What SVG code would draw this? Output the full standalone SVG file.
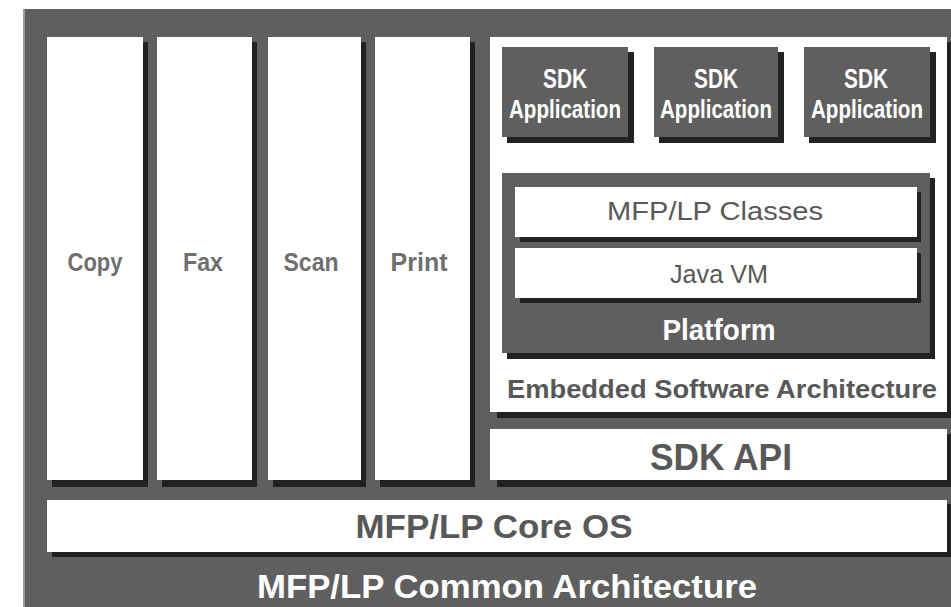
<svg xmlns="http://www.w3.org/2000/svg" width="951" height="607" viewBox="0 0 951 607">
<style>
.bg{fill:#5f5f5f}
.box{fill:#ffffff}
.sh{fill:#222222}
.dk{fill:#5f5f5f}
.lbl{font-family:"Liberation Sans",Arial,sans-serif;font-weight:bold;fill:#6f6f6f;text-anchor:middle}
.wt{font-family:"Liberation Sans",Arial,sans-serif;font-weight:bold;fill:#ffffff;text-anchor:middle}
.gr{font-family:"Liberation Sans",Arial,sans-serif;fill:#585858;text-anchor:middle}
.gb{font-family:"Liberation Sans",Arial,sans-serif;font-weight:bold;fill:#585858;text-anchor:middle}
</style>
<rect x="0" y="0" width="951" height="607" fill="#ffffff"/>
<g id="common">
<rect class="bg" x="23" y="9" width="928" height="598"/>
<rect x="23" y="9" width="2" height="598" fill="#9a9a9a"/>
<text class="wt" x="507" y="598" font-size="33" textLength="500" lengthAdjust="spacingAndGlyphs">MFP/LP Common Architecture</text>
</g>
<g id="copy">
<rect class="sh" x="52" y="42" width="96" height="445"/>
<rect class="box" x="47" y="37" width="96" height="443"/>
<text class="lbl" x="95" y="271" font-size="26" textLength="55" lengthAdjust="spacingAndGlyphs">Copy</text>
</g>
<g id="fax">
<rect class="sh" x="162" y="42" width="95" height="445"/>
<rect class="box" x="157" y="37" width="95" height="443"/>
<text class="lbl" x="203" y="271" font-size="26" textLength="40" lengthAdjust="spacingAndGlyphs">Fax</text>
</g>
<g id="scan">
<rect class="sh" x="273" y="42" width="93" height="445"/>
<rect class="box" x="268" y="37" width="93" height="443"/>
<text class="lbl" x="311" y="271" font-size="26" textLength="55" lengthAdjust="spacingAndGlyphs">Scan</text>
</g>
<g id="print">
<rect class="sh" x="380" y="42" width="95" height="445"/>
<rect class="box" x="375" y="37" width="95" height="443"/>
<text class="lbl" x="419" y="271" font-size="26" textLength="57" lengthAdjust="spacingAndGlyphs">Print</text>
</g>
<g id="core-os">
<rect class="sh" x="52" y="504" width="899" height="53"/>
<rect class="box" x="47" y="500" width="900" height="52"/>
<text class="gb" x="494" y="538" font-size="33" textLength="277" lengthAdjust="spacingAndGlyphs">MFP/LP Core OS</text>
</g>
<g id="sdk-api">
<rect class="sh" x="497" y="434" width="454" height="53"/>
<rect class="box" x="490" y="429" width="457" height="51"/>
<text class="gb" x="721" y="470" font-size="36" textLength="142" lengthAdjust="spacingAndGlyphs">SDK API</text>
</g>
<g id="embedded">
<rect class="sh" x="497" y="42" width="454" height="376"/>
<rect class="box" x="490" y="37" width="457" height="375"/>
<text class="gb" x="722" y="398" font-size="25" textLength="430" lengthAdjust="spacingAndGlyphs">Embedded Software Architecture</text>
</g>
<g id="sdk-app-1">
<rect class="sh" x="507" y="52" width="127" height="91"/>
<rect class="dk" x="502" y="47" width="126" height="90"/>
<text class="wt" x="565" y="88" font-size="27" textLength="44" lengthAdjust="spacingAndGlyphs">SDK</text>
<text class="wt" x="565" y="118" font-size="26" textLength="112" lengthAdjust="spacingAndGlyphs">Application</text>
</g>
<g id="sdk-app-2">
<rect class="sh" x="659" y="52" width="125" height="91"/>
<rect class="dk" x="654" y="47" width="124" height="90"/>
<text class="wt" x="716" y="88" font-size="27" textLength="44" lengthAdjust="spacingAndGlyphs">SDK</text>
<text class="wt" x="716" y="118" font-size="26" textLength="112" lengthAdjust="spacingAndGlyphs">Application</text>
</g>
<g id="sdk-app-3">
<rect class="sh" x="809" y="52" width="127" height="91"/>
<rect class="dk" x="804" y="47" width="126" height="90"/>
<text class="wt" x="866" y="88" font-size="27" textLength="44" lengthAdjust="spacingAndGlyphs">SDK</text>
<text class="wt" x="867" y="118" font-size="26" textLength="112" lengthAdjust="spacingAndGlyphs">Application</text>
</g>
<g id="platform">
<rect class="sh" x="507" y="178" width="428" height="181"/>
<rect class="dk" x="502" y="173" width="428" height="180"/>
<text class="wt" x="719" y="340" font-size="29" textLength="113" lengthAdjust="spacingAndGlyphs">Platform</text>
</g>
<g id="mfp-classes">
<rect class="sh" x="520" y="192" width="401" height="50"/>
<rect class="box" x="515" y="187" width="402" height="50"/>
<text class="gr" x="715" y="220" font-size="25" textLength="216" lengthAdjust="spacingAndGlyphs">MFP/LP Classes</text>
</g>
<g id="java-vm">
<rect class="sh" x="520" y="253" width="401" height="50"/>
<rect class="box" x="515" y="248" width="402" height="50"/>
<text class="gr" x="719" y="283" font-size="25" textLength="98" lengthAdjust="spacingAndGlyphs">Java VM</text>
</g>
<g id="connectors"></g>
</svg>
